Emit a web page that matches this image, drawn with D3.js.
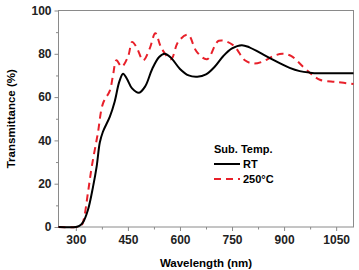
<!DOCTYPE html>
<html>
<head>
<meta charset="utf-8">
<script src="https://cdn.jsdelivr.net/npm/d3@7"></script>
<style>
body { margin: 0; background: #fff; }
text { font-family: "Liberation Sans", Arial, sans-serif; font-weight: bold; }
</style>
</head>
<body>
<div id="chart"></div>
<script>
var w = 359,
	h = 270;

// wavelength (nm) and transmittance (%)
var rtWave = [250, 300, 310, 320, 335, 350, 360, 369, 378, 398, 412, 425, 436, 447, 462, 482, 500, 520, 540, 556, 575, 600, 625, 650, 675, 700, 725, 750, 778, 800, 830, 859, 890, 916, 945, 974, 1000, 1050, 1100];
var rtVal = [0, 0, 0.5, 2, 8, 19, 28, 39, 44, 51, 58, 67, 70.8, 68.5, 64, 62, 65, 73, 78.5, 80, 78, 73, 70, 69.4, 70.5, 74, 79, 82.5, 84, 83, 80.5, 78, 75.5, 73.5, 72, 71.3, 71, 71, 71];

var htWave = [250, 300, 315, 322, 335, 346, 363, 378, 398, 407, 417, 432, 451, 462, 475, 494, 513, 529, 547, 574, 595, 623, 648, 678, 712, 753, 787, 812, 840, 870, 895, 920, 955, 980, 1003, 1052, 1100];
var htVal = [0, 0, 0.5, 3, 16, 28, 43, 57, 63, 70, 77, 74, 79, 85.5, 83, 77, 82.5, 89.5, 82.5, 77.5, 85.6, 88.8, 81, 77.5, 86, 84, 77, 75.5, 76.5, 79, 80, 79, 74, 70.5, 68, 67, 66];

var xTicks = [300, 450, 600, 750, 900, 1050];
var yTicks = [0, 20, 40, 60, 80, 100];
var xMinor = [375, 525, 675, 825, 975];
var yMinor = [10, 30, 50, 70, 90];

var root = d3.select("#chart").append("svg").attr("width", w).attr("height", h);

var pLeft = 58.5, pRight = 353.5, pTop = 10.5, pBottom = 227;

var x = d3.scaleLinear().domain([250, 1100]).range([pLeft, pRight]);
var y = d3.scaleLinear().domain([0, 100]).range([pBottom, pTop]);

// frame
root.append("rect").attr("x", pLeft).attr("y", pTop).attr("width", pRight - pLeft).attr("height", pBottom - pTop)
	.style("fill", "none").style("stroke", "#8a8a8a").style("stroke-width", 1);

root.append("g").attr("transform", "translate(0," + pBottom + ")")
	.call(d3.axisBottom(x).tickValues(xTicks).tickSize(4).tickSizeOuter(0).tickPadding(4).tickFormat(d3.format("d")));
root.append("g").attr("transform", "translate(" + pLeft + ",0)")
	.call(d3.axisLeft(y).tickValues(yTicks).tickSize(4).tickSizeOuter(0).tickPadding(3));

root.append("g").attr("transform", "translate(0," + pBottom + ")")
	.call(d3.axisBottom(x).tickValues(xMinor).tickSize(2.5).tickSizeOuter(0).tickFormat(""));
root.append("g").attr("transform", "translate(" + pLeft + ",0)")
	.call(d3.axisLeft(y).tickValues(yMinor).tickSize(2.5).tickSizeOuter(0).tickFormat(""));

root.selectAll(".domain").remove();
root.selectAll(".tick line").style("stroke", "#8a8a8a");
root.selectAll(".tick text").style("font-size", "12px").style("font-family", "Liberation Sans, Arial, sans-serif")
	.style("font-weight", "bold").style("fill", "#222");

var line = d3.line().curve(d3.curveCatmullRom.alpha(0.5))
	.x(function(d) { return x(d[0]); })
	.y(function(d) { return y(d[1]); });

var rtData = d3.zip(rtWave, rtVal);
var htData = d3.zip(htWave, htVal);

root.append("path").datum(htData).attr("d", line)
	.style("fill", "none").style("stroke", "#e8202a").style("stroke-width", 2)
	.style("stroke-dasharray", "7,5");
root.append("path").datum(rtData).attr("d", line)
	.style("fill", "none").style("stroke", "#000").style("stroke-width", 2);

// axis titles
root.append("text").attr("x", (pLeft + pRight) / 2).attr("y", 267).attr("text-anchor", "middle")
	.style("font-size", "11.5px").text("Wavelength (nm)");
root.append("text").attr("transform", "translate(15," + ((pTop + pBottom) / 2) + ") rotate(-90)")
	.attr("text-anchor", "middle").style("font-size", "11.5px").text("Transmittance (%)");

// legend
root.append("text").attr("x", 214).attr("y", 153).style("font-size", "11px").text("Sub. Temp.");
root.append("line").attr("x1", 214).attr("x2", 240).attr("y1", 164).attr("y2", 164)
	.style("stroke", "#000").style("stroke-width", 2);
root.append("text").attr("x", 243).attr("y", 168).style("font-size", "11px").text("RT");
root.append("line").attr("x1", 214).attr("x2", 240).attr("y1", 179).attr("y2", 179)
	.style("stroke", "#e8202a").style("stroke-width", 2).style("stroke-dasharray", "7,5");
root.append("text").attr("x", 243).attr("y", 183).style("font-size", "11px").text("250°C");
</script>
</body>
</html>
